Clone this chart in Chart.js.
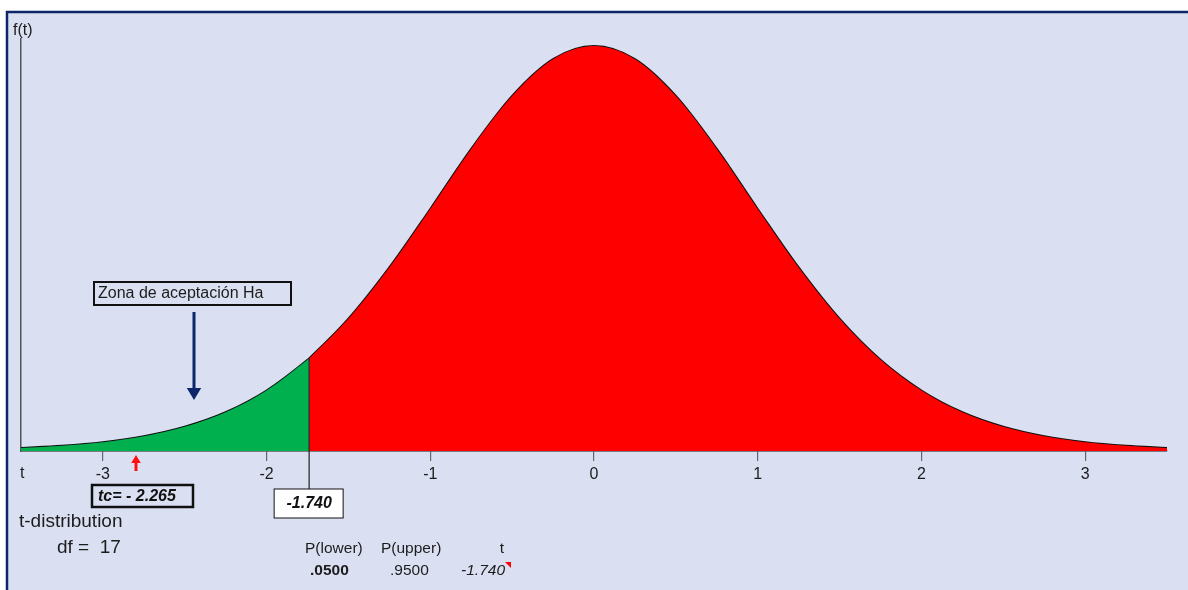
<!DOCTYPE html>
<html lang="es">
<head>
    <meta charset="UTF-8">
    <title>t-distribution df = 17</title>
    <script src="https://cdn.jsdelivr.net/npm/chart.js@4/dist/chart.umd.min.js"></script>
    <style>
        html, body { margin: 0; padding: 0; background: #ffffff; }
        canvas { display: block; }
    </style>
</head>
<body>
<canvas id="stage" width="1188" height="590"></canvas>
<script>
    // valores (t, f(t)), df = 17
    const tValues = [-3.5, -3.25, -3.0, -2.75, -2.5, -2.25, -2.0, -1.75, -1.74, -1.5, -1.25, -1.0, -0.75, -0.5, -0.25, 0,
        0.25, 0.5, 0.75, 1.0, 1.25, 1.5, 1.75, 2.0, 2.25, 2.5, 2.75, 3.0, 3.25, 3.5];
    const densValues = [0.0030, 0.0051, 0.0086, 0.0143, 0.0235, 0.0376, 0.0587, 0.0885, 0.0899, 0.1284, 0.1782, 0.2350, 0.2933, 0.3447, 0.3804, 0.3931,
        0.3804, 0.3447, 0.2933, 0.2350, 0.1782, 0.1284, 0.0885, 0.0587, 0.0376, 0.0235, 0.0143, 0.0086, 0.0051, 0.0030];
    const xTicks = [-3, -2, -1, 0, 1, 2, 3];
    const tCritico = -1.740;
    const tCalculado = -2.265;
    const df = 17;
    const pLower = '.0500';
    const pUpper = '.9500';

    const BG = 'rgb(218,224,242)';
    const NAVY = '#0c2669';
    const FONT = '"Liberation Sans", Arial, sans-serif';

    let pts = tValues.map((t, i) => ({x: t, y: densValues[i]}));
    // zona verde a la izquierda de t critico, roja a la derecha
    let greenPts = pts.filter(p => p.x <= tCritico && p.x !== -1.75);
    let redPts = pts.filter(p => p.x >= tCritico);

    function arrow(ctx, x, y1, y2, color, w, head) {
        ctx.save();
        ctx.strokeStyle = color;
        ctx.fillStyle = color;
        ctx.lineWidth = w;
        let dir = y2 > y1 ? 1 : -1;
        ctx.beginPath();
        ctx.moveTo(x, y1);
        ctx.lineTo(x, y2 - dir * head);
        ctx.stroke();
        ctx.beginPath();
        ctx.moveTo(x, y2);
        ctx.lineTo(x - head * 0.6, y2 - dir * head);
        ctx.lineTo(x + head * 0.6, y2 - dir * head);
        ctx.closePath();
        ctx.fill();
        ctx.restore();
    }

    function box(ctx, x, y, w, h, fill, lw) {
        ctx.save();
        if (fill) {
            ctx.fillStyle = fill;
            ctx.fillRect(x, y, w, h);
        }
        ctx.strokeStyle = '#111';
        ctx.lineWidth = lw;
        ctx.strokeRect(x, y, w, h);
        ctx.restore();
    }

    const frame = {
        id: 'frame',
        beforeDraw(chart) {
            const ctx = chart.ctx;
            ctx.save();
            ctx.fillStyle = '#ffffff';
            ctx.fillRect(0, 0, chart.width, chart.height);
            ctx.fillStyle = BG;
            ctx.fillRect(6, 11, chart.width - 6, chart.height - 11);
            ctx.strokeStyle = NAVY;
            ctx.lineWidth = 2.5;
            ctx.beginPath();
            ctx.moveTo(7, chart.height);
            ctx.lineTo(7, 12);
            ctx.lineTo(chart.width, 12);
            ctx.stroke();
            ctx.restore();
        },
        afterDraw(chart) {
            const ctx = chart.ctx;
            const xs = chart.scales.x, ys = chart.scales.y;
            ctx.save();
            ctx.fillStyle = '#1c1c1c';
            ctx.textBaseline = 'middle';
            ctx.font = '16px ' + FONT;
            ctx.textAlign = 'left';
            ctx.fillText('f(t)', 13, 31);
            ctx.fillText('t', 20, 474);

            // linea vertical en t critico
            let xc = xs.getPixelForValue(tCritico);
            let yc = ys.getPixelForValue(densValues[tValues.indexOf(tCritico)]);
            ctx.strokeStyle = '#222';
            ctx.lineWidth = 1.2;
            ctx.beginPath();
            ctx.moveTo(xc, yc);
            ctx.lineTo(xc, 489);
            ctx.stroke();

            // caja -1.740
            box(ctx, xc - 35, 489, 69, 29, '#ffffff', 1);
            ctx.fillStyle = '#111';
            ctx.textAlign = 'center';
            ctx.font = 'italic bold 16px ' + FONT;
            ctx.fillText(tCritico.toFixed(3), xc, 504);

            // zona de aceptacion
            box(ctx, 94, 282, 197, 23, null, 2);
            ctx.textAlign = 'left';
            ctx.font = '16px ' + FONT;
            ctx.fillStyle = '#1c1c1c';
            ctx.fillText('Zona de aceptación Ha', 98, 294);
            arrow(ctx, 194, 312, 400, NAVY, 3, 12);

            // t calculado (flecha roja bajo el eje)
            arrow(ctx, 136, 471, 455, '#ff1010', 3, 8);
            box(ctx, 92, 485, 101, 22, null, 2.5);
            ctx.fillStyle = '#111';
            ctx.font = 'italic bold 16px ' + FONT;
            ctx.fillText('tc= - ' + Math.abs(tCalculado).toFixed(3), 98, 497);

            // leyenda inferior
            ctx.fillStyle = '#1c1c1c';
            ctx.font = '19px ' + FONT;
            ctx.fillText('t-distribution', 19, 522);
            ctx.fillText('df =  ' + df, 57, 548);

            ctx.font = '15.5px ' + FONT;
            ctx.fillText('P(lower)', 305, 549);
            ctx.fillText('P(upper)', 381, 549);
            ctx.textAlign = 'center';
            ctx.fillText('t', 502, 549);
            ctx.font = 'bold 15.5px ' + FONT;
            ctx.textAlign = 'left';
            ctx.fillText(pLower, 310, 571);
            ctx.font = '15.5px ' + FONT;
            ctx.fillText(pUpper, 390, 571);
            ctx.font = 'italic 15.5px ' + FONT;
            ctx.textAlign = 'right';
            ctx.fillText(tCritico.toFixed(3), 505, 571);
            ctx.fillStyle = '#ff0000';
            ctx.beginPath();
            ctx.moveTo(505, 562);
            ctx.lineTo(511, 562);
            ctx.lineTo(511, 568);
            ctx.closePath();
            ctx.fill();
            ctx.restore();
        }
    };

    new Chart(document.getElementById('stage'), {
        type: 'line',
        data: {
            datasets: [
                {
                    data: greenPts,
                    backgroundColor: '#00b04f',
                    borderWidth: 0,
                    fill: 'origin',
                    pointRadius: 0,
                    cubicInterpolationMode: 'monotone'
                },
                {
                    data: redPts,
                    backgroundColor: '#ff0000',
                    borderWidth: 0,
                    fill: 'origin',
                    pointRadius: 0,
                    cubicInterpolationMode: 'monotone'
                },
                {
                    data: pts,
                    borderColor: '#111111',
                    borderWidth: 2,
                    fill: false,
                    pointRadius: 0,
                    cubicInterpolationMode: 'monotone'
                }
            ]
        },
        options: {
            responsive: false,
            animation: false,
            events: [],
            layout: {padding: {top: 39, right: 21, left: 0, bottom: 0}},
            plugins: {legend: {display: false}, tooltip: {enabled: false}},
            scales: {
                x: {
                    type: 'linear',
                    min: -3.5,
                    max: 3.5,
                    afterBuildTicks: (axis) => { axis.ticks = xTicks.map(v => ({value: v})); },
                    afterFit: (axis) => { axis.height = 139; },
                    grid: {drawOnChartArea: false, tickLength: 10, color: '#666', lineWidth: 1.2},
                    border: {color: '#1a1a1a', width: 1.5},
                    ticks: {
                        padding: 4,
                        color: '#1c1c1c',
                        font: {family: FONT, size: 16},
                        maxRotation: 0,
                        autoSkip: false
                    }
                },
                y: {
                    min: 0,
                    max: 0.4,
                    afterFit: (axis) => { axis.width = 21; },
                    grid: {display: false},
                    border: {color: '#555', width: 1.5},
                    ticks: {display: false}
                }
            }
        },
        plugins: [frame]
    });
</script>
</body>
</html>
